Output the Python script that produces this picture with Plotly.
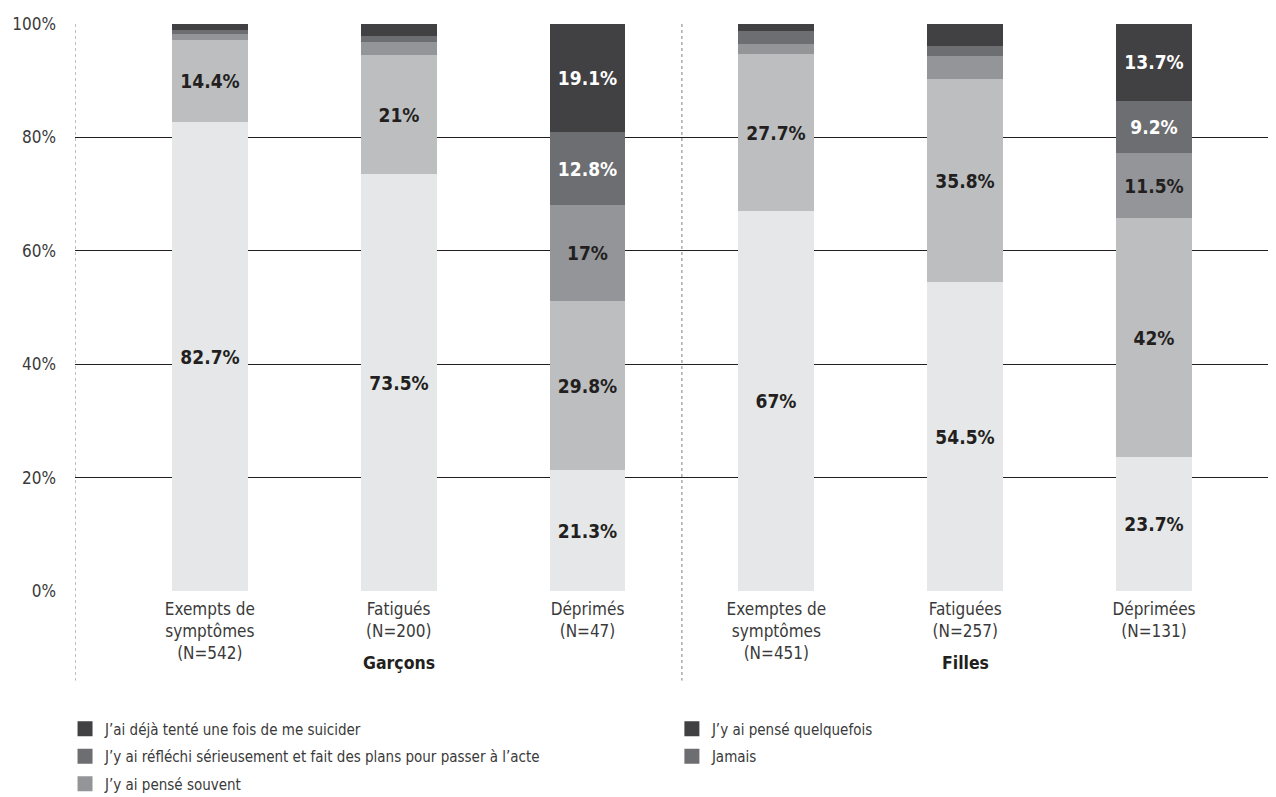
import plotly.graph_objects as go

categories = ["Exempts de<br>symptômes<br>(N=542)", "Fatigués<br>(N=200)", "Déprimés<br>(N=47)",
              "Exemptes de<br>symptômes<br>(N=451)", "Fatiguées<br>(N=257)", "Déprimées<br>(N=131)"]
groups = ["Garçons", "Filles"]
y_ticks = [0, 20, 40, 60, 80, 100]
y_ticklabels = ["0%", "20%", "40%", "60%", "80%", "100%"]

jamais = [82.7, 73.5, 21.3, 67.0, 54.5, 23.7]
quelquefois = [14.4, 21.0, 29.8, 27.7, 35.8, 42.0]
souvent = [1.1, 2.3, 17.0, 1.7, 4.0, 11.5]
reflechi = [0.7, 1.1, 12.8, 2.3, 1.8, 9.2]
tente = [1.1, 2.1, 19.1, 1.3, 3.9, 13.7]

series = [
    ("Jamais", jamais, "#e6e7e8", "#231f20"),
    ("J’y ai pensé quelquefois", quelquefois, "#bcbec0", "#231f20"),
    ("J’y ai pensé souvent", souvent, "#939598", "#231f20"),
    ("J’y ai réfléchi sérieusement et fait des plans pour passer à l’acte", reflechi, "#6d6e71", "#ffffff"),
    ("J’ai déjà tenté une fois de me suicider", tente, "#414042", "#ffffff"),
]

# legend entries as they appear in the reference: (label, swatch colour, column, row)
legend_entries = [
    ("J’ai déjà tenté une fois de me suicider", "#414042", 0, 0),
    ("J’y ai pensé quelquefois", "#414042", 1, 0),
    ("J’y ai réfléchi sérieusement et fait des plans pour passer à l’acte", "#6d6e71", 0, 1),
    ("Jamais", "#6d6e71", 1, 1),
    ("J’y ai pensé souvent", "#939598", 0, 2),
]
legend_col_x = [-0.0083, 0.497]
legend_row_y = [-0.2143, -0.2628, -0.3113]

FONT = "DejaVu Sans Condensed, Roboto, Arial"
xpos = list(range(len(categories)))

fig = go.Figure()
for name, vals, color, tcol in series:
    fig.add_trace(go.Bar(
        x=xpos, y=vals, name=name, marker=dict(color=color, line=dict(width=0)),
        width=0.402, showlegend=False,
        text=[f"{v:g}%" if v >= 5 else "" for v in vals],
        textposition="inside", insidetextanchor="middle",
        textfont=dict(family=FONT, size=19, color=tcol, weight="bold"),
        constraintext="none", hoverinfo="skip",
    ))

legend_layout = {}
for i, (name, color, col, row) in enumerate(legend_entries):
    key = "legend" if i == 0 else f"legend{i + 1}"
    fig.add_trace(go.Bar(x=[None], y=[None], name=name,
                         marker=dict(color=color, line=dict(color=color, width=3)),
                         showlegend=True, legend=key))
    legend_layout[key] = dict(
        x=legend_col_x[col], y=legend_row_y[row], xanchor="left", yanchor="top",
        orientation="v", font=dict(family=FONT, size=15, color="#3a3a3a"),
        itemwidth=30, bgcolor="rgba(0,0,0,0)")

shapes = []
for xv in [-0.714, 2.5]:
    shapes.append(dict(type="line", xref="x", yref="paper", x0=xv, x1=xv, y0=1, y1=-0.158,
                       line=dict(color="#808080", width=1, dash="dot")))

annotations = [
    dict(text="<b>" + groups[0] + "</b>", x=1, y=-0.127, xref="x", yref="paper", showarrow=False,
         font=dict(family=FONT, size=17.5, color="#231f20"), yanchor="middle"),
    dict(text="<b>" + groups[1] + "</b>", x=4, y=-0.127, xref="x", yref="paper", showarrow=False,
         font=dict(family=FONT, size=17.5, color="#231f20"), yanchor="middle"),
]

fig.update_layout(
    barmode="stack",
    width=1268, height=789,
    margin=dict(l=67, r=0, t=16, b=206, autoexpand=False),
    plot_bgcolor="white", paper_bgcolor="white",
    font=dict(family=FONT, size=16, color="#3a3a3a"),
    xaxis=dict(range=[-0.714, 5.646], tickmode="array", tickvals=xpos, ticktext=categories,
               showgrid=False, zeroline=False, showline=False, ticks="", automargin=False,
               ticklabelstandoff=6,
               tickfont=dict(family=FONT, size=17, color="#3a3a3a")),
    yaxis=dict(range=[0, 100], tickmode="array", tickvals=y_ticks, ticktext=y_ticklabels,
               showgrid=True, gridcolor="#231f20", gridwidth=1.2, zeroline=False, showline=False,
               ticks="", ticklabelstandoff=18, automargin=False,
               tickfont=dict(family=FONT, size=17, color="#3a3a3a")),
    shapes=shapes,
    annotations=annotations,
    bargap=0,
    hovermode=False,
    **legend_layout,
)

fig.write_html("out.html")
